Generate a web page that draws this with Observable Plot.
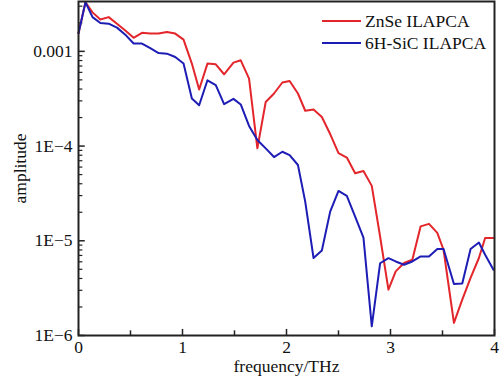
<!DOCTYPE html>
<html>
<head>
<meta charset="utf-8">
<script src="https://cdn.jsdelivr.net/npm/d3@7"></script>
<script src="https://cdn.jsdelivr.net/npm/@observablehq/plot@0.6"></script>
<style>
  html, body { margin: 0; padding: 0; background: #fff; }
  #wrap { position: relative; width: 502px; height: 384px; font-family: "Liberation Serif", "Times New Roman", serif; }
  #legend { position: absolute; left: 322px; top: 10px; font-size: 17.5px; color: #111; }
  #legend .row { display: flex; align-items: center; height: 22px; }
  #legend .sw { width: 39px; height: 2px; margin-right: 4px; }
</style>
</head>
<body>
<div id="wrap"></div>
<script>
const freq = [0.00, 0.067, 0.135, 0.21, 0.29, 0.37, 0.45, 0.53, 0.61, 0.69, 0.77, 0.85, 0.93, 1.01, 1.09, 1.16,
  1.24, 1.32, 1.40, 1.49, 1.56, 1.64, 1.72, 1.80, 1.88, 1.96, 2.03, 2.11, 2.18, 2.26, 2.34, 2.42,
  2.50, 2.58, 2.66, 2.74, 2.82, 2.90, 2.98, 3.05, 3.13, 3.21, 3.29, 3.37, 3.45, 3.51, 3.61, 3.69,
  3.77, 3.85, 3.91, 3.99];
const znse = [1.55e-3, 3.30e-3, 2.58e-3, 2.17e-3, 2.30e-3, 1.96e-3, 1.66e-3, 1.39e-3, 1.57e-3, 1.54e-3, 1.54e-3, 1.60e-3, 1.54e-3, 1.33e-3, 7.43e-4, 3.95e-4,
  7.43e-4, 7.30e-4, 5.73e-4, 7.60e-4, 8.04e-4, 5.16e-4, 9.46e-5, 2.92e-4, 3.59e-4, 4.69e-4, 4.87e-4, 3.59e-4, 2.36e-4, 2.43e-4, 2.03e-4, 1.34e-4,
  8.43e-5, 7.57e-5, 5.16e-5, 5.46e-5, 3.80e-5, 1.11e-5, 3.05e-6, 4.75e-6, 5.82e-6, 6.31e-6, 1.42e-5, 1.51e-5, 1.21e-5, 8.04e-6, 1.36e-6, 2.39e-6,
  4.05e-6, 6.58e-6, 1.07e-5, 1.07e-5];
const sic = [1.55e-3, 3.30e-3, 2.30e-3, 1.99e-3, 1.96e-3, 1.78e-3, 1.50e-3, 1.21e-3, 1.21e-3, 1.08e-3, 9.59e-4, 9.46e-4, 8.71e-4, 7.43e-4, 3.18e-4, 2.70e-4,
  4.95e-4, 4.39e-4, 2.77e-4, 3.15e-4, 2.75e-4, 1.63e-4, 1.16e-4, 9.46e-5, 7.66e-5, 8.71e-5, 8.04e-5, 6.31e-5, 2.59e-5, 6.58e-6, 7.91e-6, 2.03e-5,
  3.36e-5, 2.98e-5, 1.80e-5, 1.08e-5, 1.25e-6, 5.79e-6, 6.55e-6, 6.05e-6, 5.58e-6, 6.05e-6, 6.84e-6, 6.84e-6, 8.18e-6, 8.18e-6, 3.50e-6, 3.54e-6,
  8.18e-6, 9.59e-6, 7.13e-6, 4.95e-6];
const seriesNames = ["ZnSe ILAPCA", "6H-SiC ILAPCA"];
const seriesColors = ["#e3262b", "#1d1db5"];
const xTicks = [0, 1, 2, 3, 4];
const xMinorTicks = [0.5, 1.5, 2.5, 3.5];
const yTicks = [1e-6, 1e-5, 1e-4, 1e-3];
const yTickLabels = ["1E\u22126", "1E\u22125", "1E\u22124", "0.001"];
const xTitle = "frequency/THz";
const yTitle = "amplitude";

const data = [];
freq.forEach((f, i) => data.push({f, v: znse[i], s: seriesNames[0]}));
freq.forEach((f, i) => data.push({f, v: sic[i], s: seriesNames[1]}));

const yMinor = [];
for (let e = -6; e <= -3; e++) for (let m = 2; m <= 9; m++) {
  const v = m * Math.pow(10, e);
  if (v < 3.36e-3) yMinor.push(v);
}

const chart = Plot.plot({
  width: 502,
  height: 384,
  marginLeft: 78,
  marginRight: 8,
  marginTop: 1,
  marginBottom: 49,
  style: {fontFamily: "Liberation Serif, Times New Roman, serif", fontSize: "17.5px", color: "#111", background: "#fff"},
  x: {domain: [0, 4]},
  y: {type: "log", domain: [1e-6, 3.36e-3]},
  color: {domain: seriesNames, range: seriesColors},
  marks: [
    Plot.axisX({ticks: xTicks, tickFormat: d => String(d), tickSize: 0, tickPadding: 5, label: null}),
    Plot.axisY({ticks: yTicks, tickFormat: d => yTickLabels[yTicks.indexOf(d)], tickSize: 0, tickPadding: 6, label: null}),
    Plot.ruleY(yTicks, {y: d => d, x1: 0, x2: 0.065, stroke: "#222", strokeWidth: 1.5}),
    Plot.ruleY(yMinor, {y: d => d, x1: 0, x2: 0.042, stroke: "#222", strokeWidth: 1.2}),
    Plot.ruleX(xTicks, {x: d => d, y1: 1e-6, y2: 1.16e-6, stroke: "#222", strokeWidth: 1.5}),
    Plot.ruleX(xMinorTicks, {x: d => d, y1: 1e-6, y2: 1.12e-6, stroke: "#222", strokeWidth: 1.5}),
    Plot.line(data, {x: "f", y: "v", z: "s", stroke: "s", strokeWidth: 2}),
    Plot.frame({stroke: "#222", strokeWidth: 2}),
    Plot.text([yTitle], {frameAnchor: "left", textAnchor: "middle", lineAnchor: "middle", rotate: -90, dx: -58, fontSize: 17.5, fill: "#111"}),
    Plot.text([xTitle], {frameAnchor: "bottom", textAnchor: "middle", lineAnchor: "middle", dy: 31, fontSize: 17.5, fill: "#111"})
  ]
});

const wrap = document.getElementById("wrap");
wrap.appendChild(chart);
const legend = document.createElement("div");
legend.id = "legend";
seriesNames.forEach((n, i) => {
  const row = document.createElement("div");
  row.className = "row";
  const sw = document.createElement("div");
  sw.className = "sw";
  sw.style.background = seriesColors[i];
  const t = document.createElement("span");
  t.textContent = n;
  row.appendChild(sw);
  row.appendChild(t);
  legend.appendChild(row);
});
wrap.appendChild(legend);
</script>
</body>
</html>
